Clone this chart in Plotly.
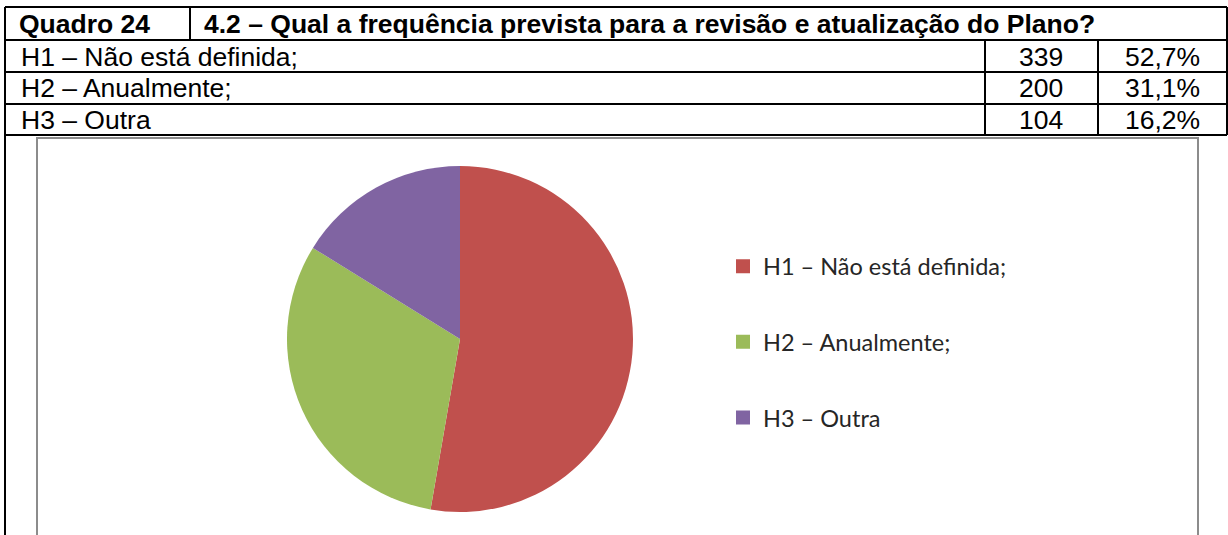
import plotly.graph_objects as go

# ---- data ----
quadro_label = "Quadro 24"
question = "4.2 – Qual a frequência prevista para a revisão e atualização do Plano?"
categories = ["H1 – Não está definida;", "H2 – Anualmente;", "H3 – Outra"]
counts = [339, 200, 104]
percents = ["52,7%", "31,1%", "16,2%"]
colors = ["#C0504D", "#9BBB59", "#8064A2"]

W, H = 1228, 535


def X(px):
    return px / W


def Y(py):
    return 1 - py / H


fig = go.Figure()

# pie chart
cx, cy, r = 460, 339, 173
fig.add_trace(go.Pie(
    labels=categories,
    values=counts,
    marker=dict(colors=colors, line=dict(width=0)),
    sort=False,
    direction="clockwise",
    rotation=0,
    textinfo="none",
    hoverinfo="label+value+percent",
    showlegend=False,
    domain=dict(x=[X(cx - r), X(cx + r)], y=[Y(cy + r), Y(cy - r)]),
))

# legend entries (one group per category so spacing can be controlled)
for cat, col in zip(categories, colors):
    fig.add_trace(go.Scatter(
        x=[None], y=[None], mode="markers", name=cat,
        legendgroup=cat,
        marker=dict(symbol="square", size=14, color=col),
        hoverinfo="skip",
    ))

shapes = []
black = dict(color="black", width=2)
# horizontal table rules
row_lines = [7, 40, 72, 104, 135]
for yy in row_lines:
    shapes.append(dict(type="line", xref="paper", yref="paper",
                       x0=X(5), x1=X(1227), y0=Y(yy), y1=Y(yy), line=black))
# vertical rules
shapes.append(dict(type="line", xref="paper", yref="paper",
                   x0=X(5), x1=X(5), y0=Y(7), y1=Y(540), line=black))
shapes.append(dict(type="line", xref="paper", yref="paper",
                   x0=X(1227), x1=X(1227), y0=Y(7), y1=Y(135), line=black))
shapes.append(dict(type="line", xref="paper", yref="paper",
                   x0=X(190), x1=X(190), y0=Y(7), y1=Y(40), line=black))
for xx in (985, 1098):
    shapes.append(dict(type="line", xref="paper", yref="paper",
                       x0=X(xx), x1=X(xx), y0=Y(40), y1=Y(135), line=black))
# chart frame
shapes.append(dict(type="rect", xref="paper", yref="paper",
                   x0=X(37), x1=X(1198), y0=Y(545), y1=Y(138),
                   line=dict(color="#8C8C8C", width=2), fillcolor="rgba(0,0,0,0)"))

annotations = []
tfont = dict(family="Liberation Sans, Arial", size=26.5, color="black")
bfont = dict(family="Liberation Sans, Arial", size=26.5, color="black")
annotations.append(dict(text="<b>%s</b>" % quadro_label, x=X(17), y=Y(24),
                        xref="paper", yref="paper", xanchor="left", yanchor="middle",
                        showarrow=False, font=bfont))
annotations.append(dict(text="<b>%s</b>" % question, x=X(202), y=Y(24),
                        xref="paper", yref="paper", xanchor="left", yanchor="middle",
                        showarrow=False, font=bfont))
row_centers = [56.5, 88.5, 120]
for cat, n, p, yc in zip(categories, counts, percents, row_centers):
    annotations.append(dict(text=cat, x=X(19), y=Y(yc), xref="paper", yref="paper",
                            xanchor="left", yanchor="middle", showarrow=False, font=tfont))
    annotations.append(dict(text=str(n), x=X(1041), y=Y(yc), xref="paper", yref="paper",
                            xanchor="center", yanchor="middle", showarrow=False, font=tfont))
    annotations.append(dict(text=p, x=X(1162), y=Y(yc), xref="paper", yref="paper",
                            xanchor="center", yanchor="middle", showarrow=False, font=tfont))

fig.update_layout(
    width=W, height=H, autosize=False,
    margin=dict(l=0, r=0, t=0, b=0),
    paper_bgcolor="white", plot_bgcolor="white",
    xaxis=dict(visible=False, domain=[0.95, 1]),
    yaxis=dict(visible=False, domain=[0.95, 1]),
    shapes=shapes,
    annotations=annotations,
    legend=dict(
        x=X(723), y=Y(342), xanchor="left", yanchor="middle",
        font=dict(family="Lato, Calibri, sans-serif", size=23.5, color="#262626"),
        tracegroupgap=42, bgcolor="rgba(0,0,0,0)",
    ),
)

fig.write_html("out.html", config={"displayModeBar": False},
               post_script="document.body.style.margin='0';document.body.style.overflow='hidden';")
